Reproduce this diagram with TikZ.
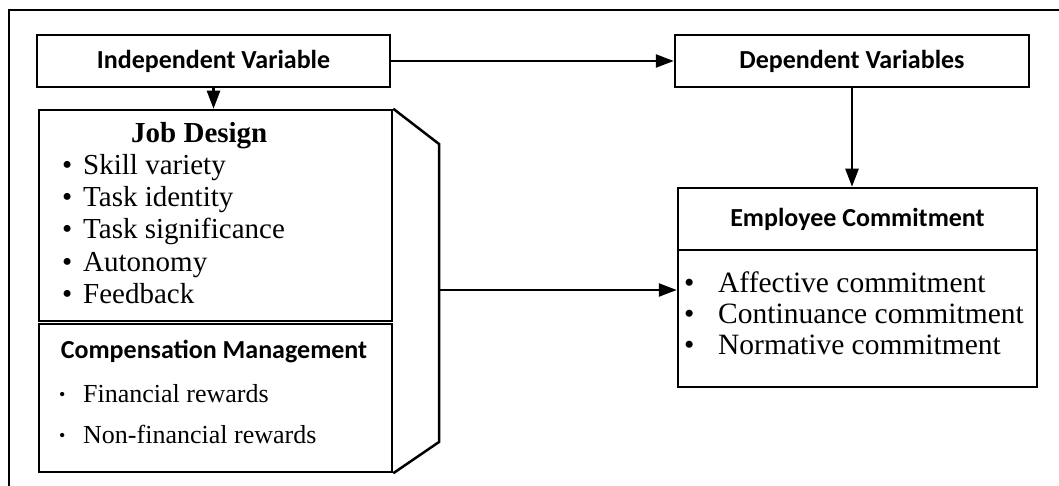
\documentclass[tikz,border=0pt]{standalone}
\usepackage{fontspec}
\setmainfont{Liberation Serif}
\newfontfamily\headfont{Carlito}
\usetikzlibrary{arrows.meta,positioning}

\begin{document}
\begin{tikzpicture}[x=1pt, y=-1pt,
    box/.style={draw, line width=2.5pt, inner sep=0pt},
    head/.style={font=\headfont\bfseries\fontsize{26}{30}\selectfont},
    jditem/.style={anchor=base west, inner sep=0pt, font=\fontsize{29}{32}\selectfont},
    compitem/.style={anchor=base west, inner sep=0pt, font=\fontsize{26}{30}\selectfont},
    ecitem/.style={anchor=base west, inner sep=0pt, font=\fontsize{29.5}{31}\selectfont},
    arrow/.style={-{Triangle[length=18pt,width=13pt]}, line width=2.5pt}
]
\useasboundingbox (0,0) rectangle (1059,486);

% Outer frame (only top and left edges show)
\draw[line width=2.5pt] (9,486) -- (9,10) -- (1059,10);

% Variable headers
\node[box, head, minimum width=353pt, minimum height=52pt] (iv) at (213.5,61) {Independent Variable};
\node[box, head, minimum width=354pt, minimum height=52pt] (dv) at (852,61) {Dependent Variables};

% Independent side: job design and compensation
\node[box, minimum width=353pt, minimum height=211pt] (jd) at (215.5,215.5) {};
\node[box, minimum width=353pt, minimum height=148pt] (comp) at (215.5,398) {};
\coordinate (sidetop) at (439,144);
\coordinate (sidebot) at (439,442);
\coordinate (sidemid) at (439,290);
\draw[line width=2.5pt, line join=miter] (jd.north east) -- (sidetop) -- (sidebot) -- (comp.south east);

\node[anchor=base west, inner sep=0pt, font=\bfseries\fontsize{29}{32}\selectfont] (jdtitle) at (131,143) {Job Design};
\foreach \txt [count=\i] in {Skill variety, Task identity, Task significance, Autonomy, Feedback}
  \node[jditem] (jd\i) at (62,{143+32*\i}) {\makebox[21pt][l]{•}\txt};

\node[head, anchor=base, inner sep=0pt] (comptitle) at (214,358) {Compensation Management};
\foreach \txt [count=\i] in {Financial rewards, Non-financial rewards}
  \node[compitem] (comp\i) at (59,{361+41*\i}) {\makebox[24pt][l]{\raisebox{2pt}{\fontsize{18}{18}\selectfont •}}\txt};

% Dependent side: employee commitment
\node[box, head, minimum width=359pt, minimum height=62pt] (ech) at (857.5,219) {Employee Commitment};
\node[box, minimum width=359pt, minimum height=137pt] (ecb) at (857.5,318.5) {};
\foreach \txt [count=\i] in {Affective commitment, Continuance commitment, Normative commitment}
  \node[ecitem] (ec\i) at (684,{261+31*\i}) {\makebox[34pt][l]{•}\txt};

% Arrows
\draw[arrow] (iv.south) -- (iv.south |- jd.north);
\draw[arrow] (iv) -- (dv);
\draw[arrow] (dv.south) -- (dv.south |- ech.north);
\draw[arrow] (sidemid) -- (sidemid -| ecb.west);
\end{tikzpicture}
\end{document}
